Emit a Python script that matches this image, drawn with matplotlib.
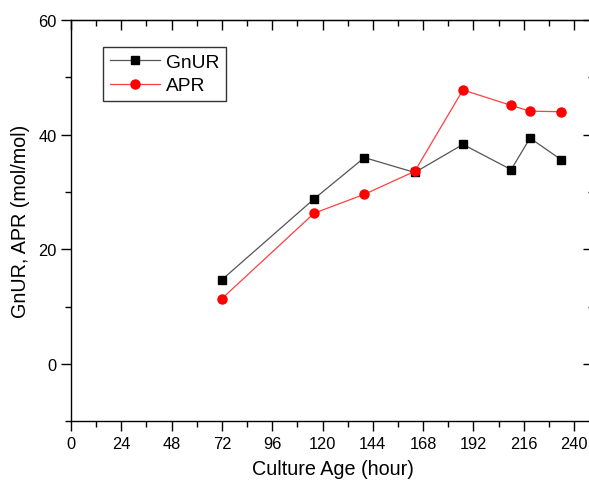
import matplotlib
matplotlib.use("Agg")
import matplotlib.pyplot as plt
from matplotlib.ticker import MultipleLocator, NullFormatter

# ====================== DATA ======================
hours = [72, 116, 140, 164, 187, 210, 219, 234]
gnur = [14.7, 28.8, 36.0, 33.4, 38.3, 33.9, 39.4, 35.6]
apr = [11.4, 26.3, 29.6, 33.6, 47.8, 45.1, 44.1, 44.0]

x_ticks = [0, 24, 48, 72, 96, 120, 144, 168, 192, 216, 240]
y_ticks = [0, 20, 40, 60]

plt.rcParams["font.family"] = ["Liberation Sans", "DejaVu Sans"]

fig = plt.figure(figsize=(5.89, 4.85), dpi=100)
ax = fig.add_axes([71 / 589, 1 - 422.3 / 485, 524 / 589, (422.3 - 21) / 485])

ax.plot(hours, gnur, color="#555555", lw=0.9, marker="s", ms=5.8,
        mfc="black", mec="black", label="GnUR")
ax.plot(hours, apr, color="#ff4040", lw=0.9, marker="o", ms=6.5,
        mfc="red", mec="red", label="APR")

ax.set_xlim(0, 250)
ax.set_ylim(-10, 60)
ax.set_xticks(x_ticks)
ax.set_yticks(y_ticks)
ax.xaxis.set_minor_locator(MultipleLocator(12))
ax.yaxis.set_minor_locator(MultipleLocator(10))

for s in ax.spines.values():
    s.set_linewidth(1.0)

ax.tick_params(which="major", direction="out", length=7, width=1.0,
               labelsize=11.8)
ax.tick_params(which="minor", direction="out", length=4, width=1.0)

# inward ticks on top and right
top = ax.secondary_xaxis("top")
top.set_xticks(x_ticks)
top.xaxis.set_minor_locator(MultipleLocator(12))
top.xaxis.set_major_formatter(NullFormatter())
top.tick_params(which="major", direction="in", length=7, width=1.0)
top.tick_params(which="minor", direction="in", length=4, width=1.0)

right = ax.secondary_yaxis("right")
right.set_yticks(y_ticks)
right.yaxis.set_minor_locator(MultipleLocator(10))
right.yaxis.set_major_formatter(NullFormatter())
right.tick_params(which="major", direction="in", length=9, width=1.0)
right.tick_params(which="minor", direction="in", length=5, width=1.0)

ax.set_xlabel("Culture Age (hour)", fontsize=14.2, labelpad=6)
ax.set_ylabel("GnUR, APR (mol/mol)", fontsize=14.2, labelpad=6)

leg = ax.legend(loc="upper left", bbox_to_anchor=(103 / 589, 1 - 48 / 485),
                bbox_transform=fig.transFigure, borderaxespad=0,
                fancybox=False, edgecolor="black", fontsize=13.8,
                handlelength=2.6, handletextpad=0.35, borderpad=0.35,
                labelspacing=0.3)
leg.get_frame().set_linewidth(1.0)

fig.savefig("out.png", dpi=100)
